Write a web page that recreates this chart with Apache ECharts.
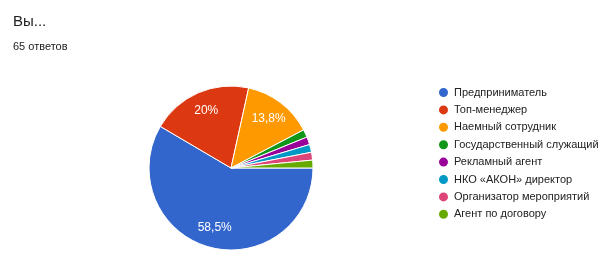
<!DOCTYPE html>
<html><head><meta charset="utf-8">
<script src="https://cdn.jsdelivr.net/npm/echarts@6/dist/echarts.min.js"></script>
<style>html,body{margin:0;padding:0;background:#fff}#c{width:608px;height:263px}</style>
</head><body><div id="c"></div>
<script>
const categories = ['Предприниматель','Топ-менеджер','Наемный сотрудник','Государственный служащий','Рекламный агент','НКО «АКОН» директор','Организатор мероприятий','Агент по договору'];
const counts = [38, 13, 9, 1, 1, 1, 1, 1];
const colors = ['#3366cc','#dc3912','#ff9900','#109618','#990099','#0099c6','#dd4477','#66aa00'];
const total = counts.reduce((a,b)=>a+b,0);
const data = categories.map((n,i)=>({name:n,value:counts[i],itemStyle:{color:colors[i]}}));
const chart = echarts.init(document.getElementById('c'));
chart.setOption({
  animation:false,
  title:[{text:'Вы...',left:8,top:9,textStyle:{fontFamily:'Arial',fontSize:15,fontWeight:'normal',color:'#212121'}},
         {text:'65 ответов',left:8,top:36,textStyle:{fontFamily:'Arial',fontSize:11,fontWeight:'normal',color:'#212121'}}],
  legend:{orient:'vertical',left:432,top:81,itemWidth:11,itemHeight:11,itemGap:4.4,icon:'circle',
    data:categories,textStyle:{fontFamily:'Arial',fontSize:11,color:'#222'}},
  series:[{type:'pie',center:[231,168],radius:82,startAngle:0,clockwise:true,data:data,
    itemStyle:{borderColor:'#fff',borderWidth:1},label:{show:false},labelLine:{show:false},emphasis:{disabled:true}},
    {type:'pie',center:[231,168],radius:[36,82],startAngle:0,clockwise:true,silent:true,
     data:categories.map((n,i)=>({name:n+' ',value:counts[i]})),
     itemStyle:{color:'rgba(0,0,0,0)'},
     label:{show:true,position:'inside',color:'#fff',fontFamily:'Arial',fontSize:12,
       formatter:p=>{const v=p.value/total*100; if(v<5)return ''; const r=Math.round(v*10)/10; return (r%1===0?r.toFixed(0):r.toFixed(1)).replace('.',',')+'%';}},
     labelLine:{show:false},emphasis:{disabled:true}}]
});
</script></body></html>
